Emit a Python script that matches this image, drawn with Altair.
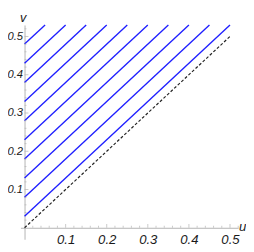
import altair as alt
import pandas as pd

# ---- data ----
u_ticks = [0.1, 0.2, 0.3, 0.4, 0.5]
v_ticks = [0.1, 0.2, 0.3, 0.4, 0.5]
minor_ticks = [0.02, 0.04, 0.06, 0.08, 0.12, 0.14, 0.16, 0.18, 0.22, 0.24, 0.26,
               0.28, 0.32, 0.34, 0.36, 0.38, 0.42, 0.44, 0.46, 0.48, 0.52]

line_u_start = [0, 0, 0, 0, 0, 0, 0, 0, 0, 0]
line_v_start = [0.03, 0.08, 0.13, 0.18, 0.23, 0.28, 0.33, 0.38, 0.43, 0.48]
line_u_end = [0.50, 0.45, 0.40, 0.35, 0.30, 0.25, 0.20, 0.15, 0.10, 0.05]
line_v_end = [0.53, 0.53, 0.53, 0.53, 0.53, 0.53, 0.53, 0.53, 0.53, 0.53]

diag_u = [0.0, 0.5]
diag_v = [0.0, 0.5]

u_domain = [-0.01, 0.52]
v_domain = [-0.03, 0.53]

# ---- layout ----
KX = 422.0
KY = 393.0
W = (u_domain[1] - u_domain[0]) * KX
H = (v_domain[1] - v_domain[0]) * KY
x_off = -(0 - u_domain[0]) * KX
y_off = -(0 - v_domain[0]) * KY

FONT = "Liberation Sans"
AX = "#b3b3b3"
TXT = "#1a1a1a"

lines_df = pd.DataFrame({"u0": line_u_start, "v0": line_v_start,
                         "u1": line_u_end, "v1": line_v_end})
diag_df = pd.DataFrame({"u": diag_u, "v": diag_v, "o": [0, 1]})
uticks_df = pd.DataFrame({"u": u_ticks, "v": [0.0] * len(u_ticks)})
vticks_df = pd.DataFrame({"u": [0.0] * len(v_ticks), "v": v_ticks})
uminor_df = pd.DataFrame({"u": minor_ticks, "v": [0.0] * len(minor_ticks)})
vminor_df = pd.DataFrame({"u": [0.0] * len(minor_ticks), "v": minor_ticks})

xscale = alt.Scale(domain=u_domain, nice=False, zero=False)
yscale = alt.Scale(domain=v_domain, nice=False, zero=False)

xaxis = alt.Axis(values=u_ticks, format=".1f", ticks=False, grid=False,
                 domainColor=AX, domainWidth=1, offset=y_off,
                 labelFont=FONT, labelFontStyle="italic", labelFontSize=13.5,
                 labelColor=TXT, labelPadding=5, labelFlush=False,
                 title="u", titleFont=FONT, titleFontStyle="italic",
                 titleFontWeight="normal", titleFontSize=13.5, titleColor=TXT,
                 titleX=W + 4, titleY=-1, titleAlign="center",
                 titleBaseline="middle", titleAngle=0)
yaxis = alt.Axis(values=v_ticks, format=".1f", ticks=False, grid=False,
                 domainColor=AX, domainWidth=1, offset=x_off,
                 labelFont=FONT, labelFontStyle="italic", labelFontSize=11.5,
                 labelColor=TXT, labelPadding=2, labelFlush=False,
                 title="v", titleFont=FONT, titleFontStyle="italic",
                 titleFontWeight="normal", titleFontSize=13, titleColor=TXT,
                 titleX=-2, titleY=-7.5, titleAlign="center",
                 titleBaseline="middle", titleAngle=0)

blue = alt.Chart(lines_df).mark_rule(color="#1f1fff", strokeWidth=1.4).encode(
    x=alt.X("u0:Q", scale=xscale, axis=xaxis),
    y=alt.Y("v0:Q", scale=yscale, axis=yaxis),
    x2="u1:Q", y2="v1:Q")

diag = alt.Chart(diag_df).mark_line(color="#222222", strokeWidth=1.2,
                                    strokeDash=[3, 2]).encode(
    x=alt.X("u:Q", scale=xscale), y=alt.Y("v:Q", scale=yscale), order="o:Q")

xt = alt.Chart(uticks_df).mark_tick(orient="vertical", size=4, thickness=1,
                                    color=AX, yOffset=-2).encode(
    x=alt.X("u:Q", scale=xscale), y=alt.Y("v:Q", scale=yscale))
xm = alt.Chart(uminor_df).mark_tick(orient="vertical", size=2, thickness=1,
                                    color=AX, yOffset=-1).encode(
    x=alt.X("u:Q", scale=xscale), y=alt.Y("v:Q", scale=yscale))
yt = alt.Chart(vticks_df).mark_tick(orient="horizontal", size=4, thickness=1,
                                    color=AX, xOffset=2).encode(
    x=alt.X("u:Q", scale=xscale), y=alt.Y("v:Q", scale=yscale))
ym = alt.Chart(vminor_df).mark_tick(orient="horizontal", size=2, thickness=1,
                                    color=AX, xOffset=1).encode(
    x=alt.X("u:Q", scale=xscale), y=alt.Y("v:Q", scale=yscale))

chart = alt.layer(blue, diag, xt, xm, yt, ym).properties(
    width=W, height=H, autosize="none",
    padding={"left": 25 - 8 + x_off, "top": 14.2, "right": 8, "bottom": 6},
    background="white",
).configure_view(strokeWidth=0)

chart.save("out.html", embed_options={"renderer": "svg", "actions": False})
